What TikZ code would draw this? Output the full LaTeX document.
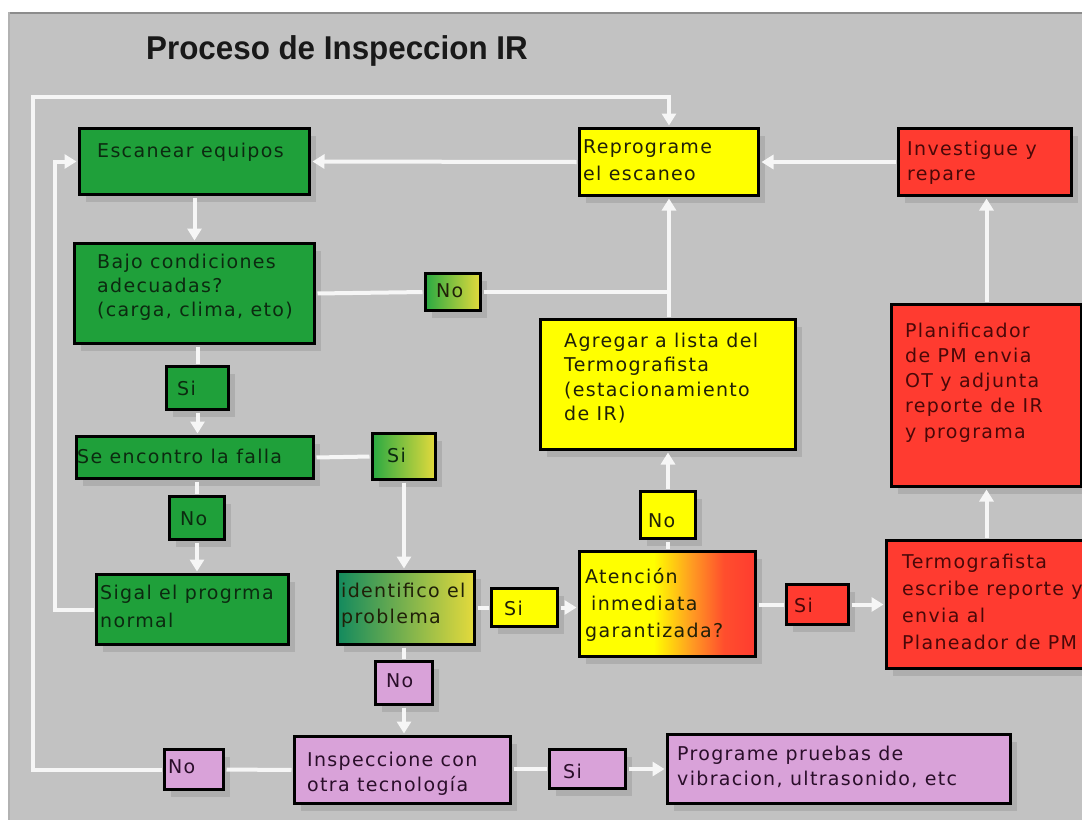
\documentclass[tikz,border=0pt]{standalone}
\usepackage{fontspec}
\usepackage{graphicx}
\usetikzlibrary{arrows.meta,shadows}
\newfontfamily\boxfont[LetterSpace=7]{DejaVu Sans}
\newfontfamily\ttlfont{Liberation Sans}
\definecolor{bg}{HTML}{C2C2C2}
\definecolor{grn}{HTML}{1FA03A}
\definecolor{yel}{HTML}{FFFF00}
\definecolor{rd}{HTML}{FF3B30}
\definecolor{pnk}{HTML}{D9A2D9}
\definecolor{shd}{HTML}{9C9C9C}
\definecolor{gtx}{HTML}{0C2A10}
\definecolor{rtx}{HTML}{4A0808}
\definecolor{ytx}{HTML}{202008}
\definecolor{ptx}{HTML}{2A0E2A}
\definecolor{lnw}{HTML}{F6F6F6}
\definecolor{gA}{HTML}{2AAA42}
\definecolor{yA}{HTML}{E4DA3C}
\definecolor{tealA}{HTML}{138A5E}
\definecolor{gB}{HTML}{4DB53A}
\definecolor{org}{HTML}{FF9A22}
\pgfdeclarehorizontalshading{ateshade}{100bp}{color(0bp)=(yel); color(25bp)=(yel); color(46bp)=(yel); color(57bp)=(org); color(66bp)=(rd!80!org); color(75bp)=(rd); color(100bp)=(rd)}
\newcommand\bxlines[2][25pt]{\parbox[t]{420pt}{\boxfont\fontsize{19pt}{#1}\selectfont\raggedright #2}}
\begin{document}
\begin{tikzpicture}[x=1pt,y=-1pt,
  box/.style={draw=black, line width=3pt, anchor=north west, inner sep=0pt,
    drop shadow={shadow xshift=6pt, shadow yshift=-7pt, fill=shd}},
  txt/.style={anchor=base west, inner sep=0pt},
  conn/.style={draw=lnw, line width=4pt, shorten >=1.5pt, shorten <=1.5pt},
  arr/.style={conn, -{Triangle[width=14pt,length=12pt]}}]
\useasboundingbox (0,0) rectangle (1082,820);
\clip (0,0) rectangle (1082,820);
\fill[white] (0,0) rectangle (1082,820);
\fill[bg] (8,12) rectangle (1082,820);
\draw[black!45, line width=2pt] (8,13) -- (1082,13);
\draw[black!30, line width=2pt] (9,12) -- (9,820);

\node[anchor=base west, inner sep=0pt, text=black!90] (title) at (146,59)
  {\ttlfont\bfseries\fontsize{33pt}{36pt}\selectfont\scalebox{0.95}[1]{Proceso de Inspeccion IR}};

% boxes
\node[box, fill=grn, minimum width=230pt, minimum height=66pt] (esc) at (78,127) {};
\node[box, fill=yel, minimum width=179pt, minimum height=67pt] (rep) at (578,127) {};
\node[box, fill=rd, minimum width=173pt, minimum height=67pt] (inv) at (897,127) {};
\node[box, fill=grn, minimum width=240pt, minimum height=100pt] (bajo) at (73,242) {};
\node[box, left color=gA, right color=yA, minimum width=55pt, minimum height=37pt] (no1) at (424,272) {};
\node[box, fill=grn, minimum width=62pt, minimum height=43pt] (si1) at (165,365) {};
\node[box, fill=grn, minimum width=237pt, minimum height=42pt] (enc) at (75,435) {};
\node[box, left color=gA, right color=yA, minimum width=63pt, minimum height=46pt] (si2) at (371,432) {};
\node[box, fill=grn, minimum width=55pt, minimum height=43pt] (no2) at (168,495) {};
\node[box, fill=grn, minimum width=192pt, minimum height=70pt] (sig) at (95,573) {};
\node[box, left color=tealA, middle color=gB, right color=yA, minimum width=137pt, minimum height=73pt] (ide) at (336,570) {};
\node[box, fill=yel, minimum width=66pt, minimum height=38pt] (si3) at (490,587) {};
\node[box, shading=ateshade, minimum width=176pt, minimum height=105pt] (ate) at (578,550) {};
\node[box, fill=rd, minimum width=62pt, minimum height=40pt] (si4) at (785,583) {};
\node[box, fill=rd, minimum width=215pt, minimum height=128pt] (ter) at (885,539) {};
\node[box, fill=yel, minimum width=255pt, minimum height=130pt] (agr) at (539,318) {};
\node[box, fill=yel, minimum width=55pt, minimum height=47pt] (no3) at (639,490) {};
\node[box, fill=rd, minimum width=190pt, minimum height=182pt] (pla) at (890,303) {};
\node[box, fill=pnk, minimum width=57pt, minimum height=43pt] (no4) at (374,660) {};
\node[box, fill=pnk, minimum width=216pt, minimum height=67pt] (ins) at (293,735) {};
\node[box, fill=pnk, minimum width=59pt, minimum height=40pt] (no5) at (163,748) {};
\node[box, fill=pnk, minimum width=76pt, minimum height=39pt] (si5) at (548,748) {};
\node[box, fill=pnk, minimum width=343pt, minimum height=69pt] (pro) at (666,733) {};

% texts
\node[txt, text=gtx] (t-esc) at (97,157) {\bxlines{Escanear equipos}};
\node[txt, text=ytx] (t-rep) at (583,153) {\bxlines[27pt]{Reprograme\\el escaneo}};
\node[txt, text=rtx] (t-inv) at (907,155) {\bxlines{Investigue y\\repare}};
\node[txt, text=gtx] (t-bajo) at (97,268) {\bxlines[24pt]{Bajo condiciones\\adecuadas?\\(carga, clima, eto)}};
\node[txt, text=ytx] (t-no1) at (436,297) {\bxlines{No}};
\node[txt, text=gtx] (t-si1) at (177,395) {\bxlines{Si}};
\node[txt, text=gtx] (t-enc) at (77,463) {\bxlines{Se encontro la falla}};
\node[txt, text=gtx] (t-si2) at (387,462) {\bxlines{Si}};
\node[txt, text=gtx] (t-no2) at (180,525) {\bxlines{No}};
\begin{scope}
\clip (sig.south west) rectangle (sig.north east);
\node[txt, text=gtx] (t-sig) at (100,599) {\bxlines[28pt]{Sigal el progrma\\normal}};
\end{scope}
\begin{scope}
\clip (ide.south west) rectangle (ide.north east);
\node[txt, text=ytx] (t-ide) at (341,597) {\bxlines[26pt]{identifico el\\problema}};
\end{scope}
\node[txt, text=ytx] (t-si3) at (504,615) {\bxlines{Si}};
\node[txt, text=ytx] (t-ate) at (585,583) {\bxlines[27pt]{Atención\\\hspace*{6pt}inmediata\\garantizada?}};
\node[txt, text=rtx] (t-si4) at (794,612) {\bxlines{Si}};
\node[txt, text=rtx] (t-ter) at (902,568) {\bxlines[27pt]{Termografista\\escribe reporte y\\envia al\\Planeador de PM}};
\node[txt, text=ytx] (t-agr) at (564,347) {\bxlines[24.5pt]{Agregar a lista del\\Termografista\\(estacionamiento\\de IR)}};
\node[txt, text=ytx] (t-no3) at (648,527) {\bxlines{No}};
\node[txt, text=rtx] (t-pla) at (905,337) {\bxlines[25.3pt]{Planificador\\de PM envia\\OT y adjunta\\reporte de IR\\y programa}};
\node[txt, text=ptx] (t-no4) at (386,687) {\bxlines{No}};
\node[txt, text=ptx] (t-ins) at (307,766) {\bxlines{Inspeccione con\\otra tecnología}};
\node[txt, text=ptx] (t-no5) at (168,773) {\bxlines{No}};
\node[txt, text=ptx] (t-si5) at (563,778) {\bxlines{Si}};
\node[txt, text=ptx] (t-pro) at (677,760) {\bxlines{Programe pruebas de\\vibracion, ultrasonido, etc}};

% connectors
\coordinate (L1) at (33,97);
\coordinate (L2) at (55,0);
\draw[conn] (ins.west) -- (no5.east);
\draw[arr] (no5.west) -- (no5.west -| L1) -- (L1) -- (L1 -| rep.north) -- (rep.north);
\draw[arr] (sig.west) -- (sig.west -| L2) -- (L2 |- esc.west) -- (esc.west);
\draw[arr] (rep.west) -- (esc.east);
\draw[arr] (inv.west) -- (rep.east);
\draw[arr] (esc.south) -- (bajo.north);
\draw[conn] (bajo.east) -- (no1.west);
\draw[conn, shorten >=0pt] (no1.east) -- (no1.east -| rep.south);
\draw[arr] (rep.south |- agr.north) -- (rep.south);
\draw[conn] (si1.north |- bajo.south) -- (si1.north);
\draw[arr] (si1.south) -- (si1.south |- enc.north);
\draw[conn] (enc.east) -- (si2.west);
\draw[arr] (si2.south) -- (si2.south |- ide.north);
\draw[conn] (no2.north |- enc.south) -- (no2.north);
\draw[arr] (no2.south) -- (no2.south |- sig.north);
\draw[conn] (si3.west -| ide.east) -- (si3.west);
\draw[arr] (si3.east) -- (si3.east -| ate.west);
\draw[conn] (no3.south |- ate.north) -- (no3.south);
\draw[arr] (no3.north) -- (no3.north |- agr.south);
\draw[conn] (si4.west -| ate.east) -- (si4.west);
\draw[arr] (si4.east) -- (si4.east -| ter.west);
\draw[arr] (pla.south |- ter.north) -- (pla.south);
\draw[arr] (pla.north) -- (pla.north |- inv.south);
\draw[conn] (no4.north |- ide.south) -- (no4.north);
\draw[arr] (no4.south) -- (no4.south |- ins.north);
\draw[conn] (si5.west -| ins.east) -- (si5.west);
\draw[arr] (si5.east) -- (si5.east -| pro.west);
\end{tikzpicture}
\end{document}
